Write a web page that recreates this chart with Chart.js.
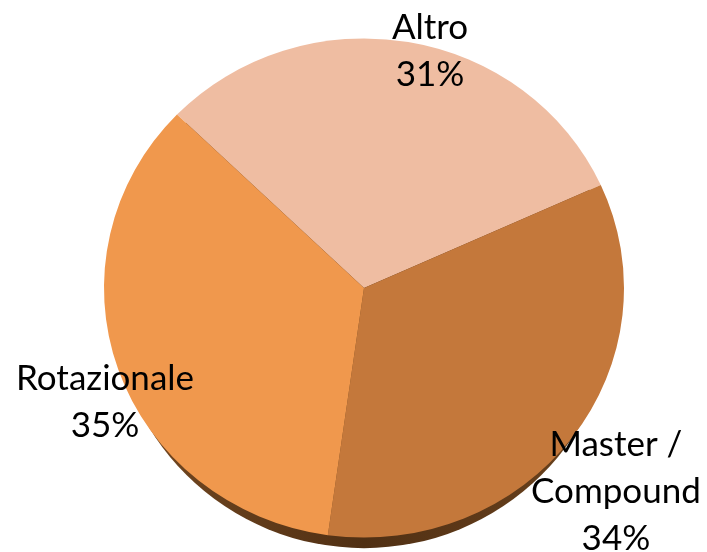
<!DOCTYPE html>
<html lang="it">
<head>
<meta charset="utf-8">
<title>Distribuzione</title>
<script src="https://cdn.jsdelivr.net/npm/chart.js@4/dist/chart.umd.min.js"></script>
<style>
    html, body {
        margin: 0;
        padding: 0;
        background: #ffffff;
    }
    .chart-container {
        position: relative;
        width: 707px;
        height: 552px;
    }
</style>
</head>
<body>
<div class="chart-container">
    <canvas id="chartTorta"></canvas>
</div>
<script>
// Datos
const categorie = ['Altro', 'Master / Compound', 'Rotazionale']
const righeEtichette = [['Altro'], ['Master /', 'Compound'], ['Rotazionale']]
const percentuali = [31, 34, 35]

const colori = ['#EFBDA2', '#C4783B', '#F0984D']

// Posición de las etiquetas, en radios desde el centro
const posEtichette = [[0.254, -0.912], [0.969, 0.783], [-0.996, 0.44]]
const schiacciamento = 0.96

// Plugin: aplasta un poco la torta y dibuja la sombra inferior
const pluginTorta3d = {
    id: 'torta3d',
    beforeDatasetsDraw(chart) {
        const arc = chart.getDatasetMeta(0).data[0]
        if (!arc) return
        const { x, y, outerRadius } = arc.getProps(['x', 'y', 'outerRadius'], true)
        const ctx = chart.ctx
        ctx.save()
        ctx.translate(x, y)
        ctx.scale(1, schiacciamento)
        ctx.translate(-x, -y)

        // sombra (solo se ve por debajo)
        const grad = ctx.createLinearGradient(x - outerRadius, 0, x + outerRadius, 0)
        grad.addColorStop(0, 'rgba(120, 75, 35, 1)')
        grad.addColorStop(0.5, 'rgba(80, 48, 20, 1)')
        grad.addColorStop(1, 'rgba(110, 68, 30, 1)')
        ctx.beginPath()
        ctx.ellipse(x, y + 11, outerRadius - 9, outerRadius, 0, 0, Math.PI * 2)
        ctx.fillStyle = grad
        ctx.fill()
    },
    afterDatasetsDraw(chart) {
        chart.ctx.restore()

        // etiquetas
        const arc = chart.getDatasetMeta(0).data[0]
        if (!arc) return
        const { x, y, outerRadius } = arc.getProps(['x', 'y', 'outerRadius'], true)
        const ctx = chart.ctx
        ctx.save()
        ctx.font = '35px Lato'
        ctx.fillStyle = '#000000'
        ctx.textAlign = 'center'
        ctx.textBaseline = 'middle'
        const altezzaRiga = 47
        righeEtichette.forEach((righe, i) => {
            const linee = [...righe, `${percentuali[i]}%`]
            const cx = x + posEtichette[i][0] * outerRadius
            const cy = y + posEtichette[i][1] * outerRadius
            const inizio = cy - (linee.length - 1) * altezzaRiga / 2
            linee.forEach((t, j) => {
                ctx.fillText(t, cx, inizio + j * altezzaRiga)
            })
        })
        ctx.restore()
    }
}

const ctx = document.getElementById('chartTorta').getContext('2d')
new Chart(ctx, {
    type: 'pie',
    data: {
        labels: categorie,
        datasets: [{
            data: percentuali,
            backgroundColor: colori,
            borderWidth: 0,
            clip: false
        }]
    },
    options: {
        responsive: true,
        maintainAspectRatio: false,
        animation: false,
        rotation: -46,
        layout: {
            padding: { top: 28, bottom: 4, left: 21, right: 0 }
        },
        plugins: {
            legend: { display: false },
            tooltip: { enabled: false }
        }
    },
    plugins: [pluginTorta3d]
})
</script>
</body>
</html>
